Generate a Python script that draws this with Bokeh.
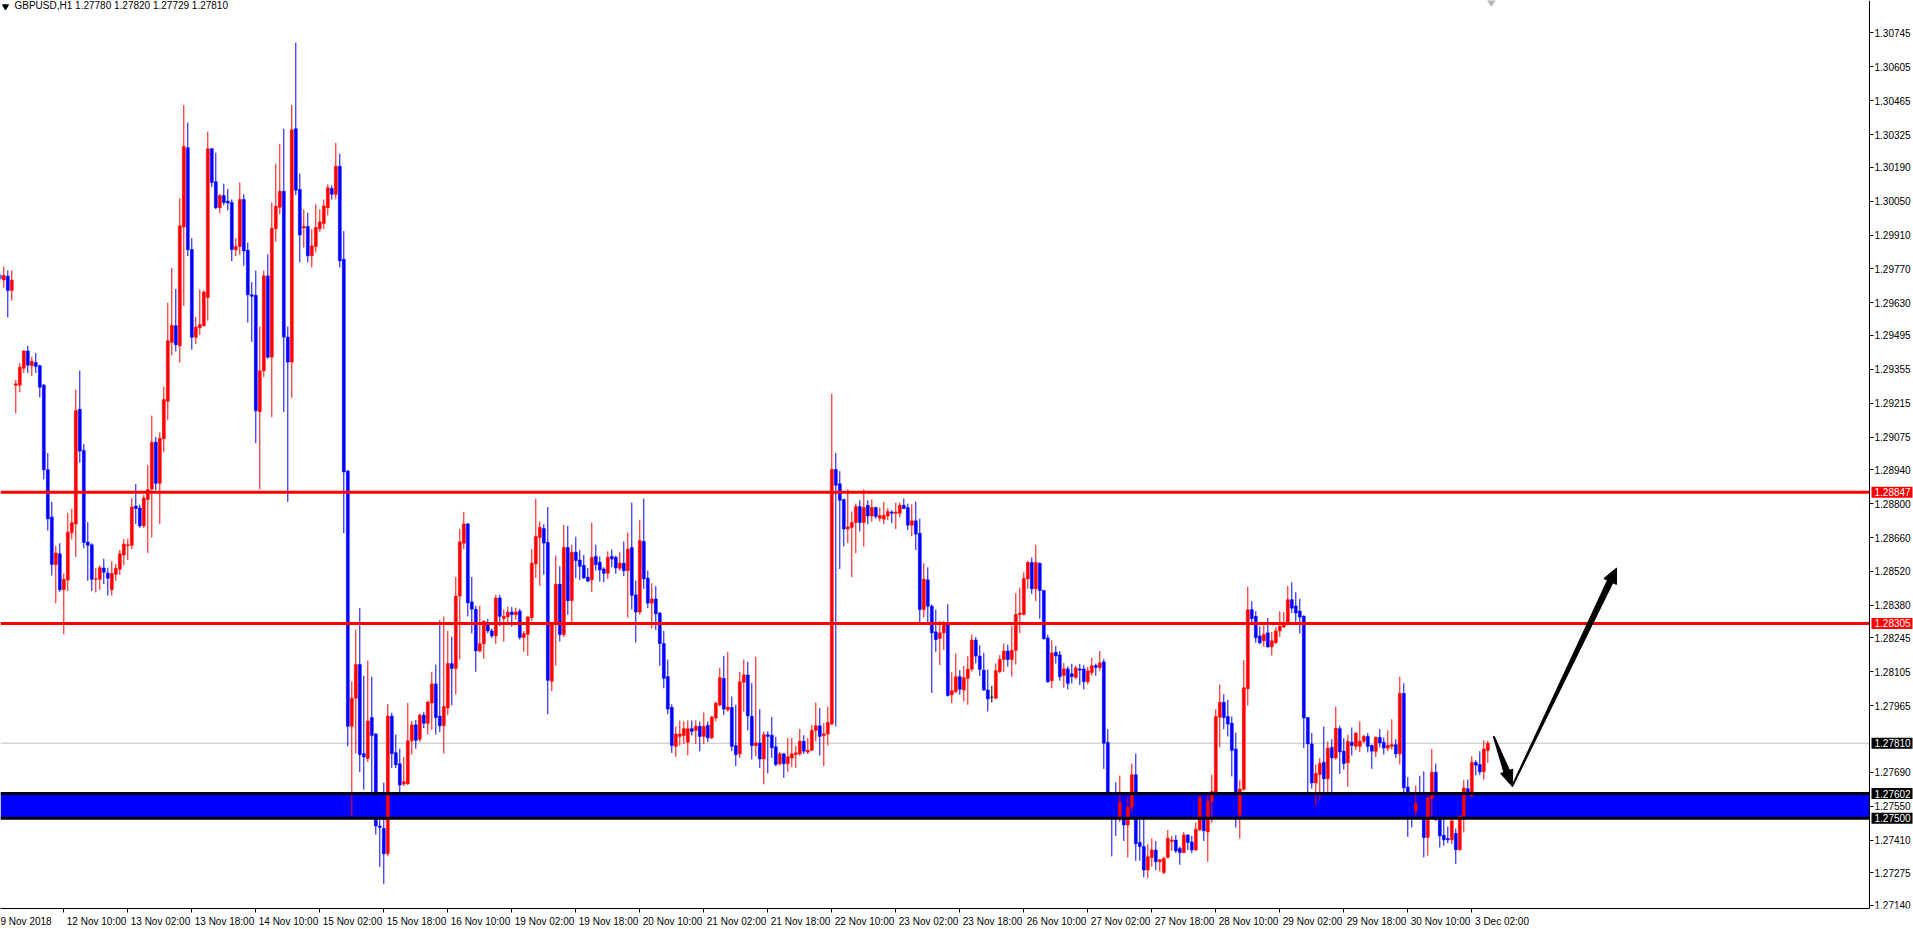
from bokeh.plotting import figure
from bokeh.models import (ColumnDataSource, FixedTicker, PrintfTickFormatter,
                          BoxAnnotation, Label, Range1d)
from bokeh.embed import file_html
from bokeh.resources import INLINE
import math

# ---------------- data (GBPUSD H1) ----------------
opens = [
 1.29745,1.29724,1.29740,1.29681,1.29289,1.29289,1.29359,1.29431,1.29370,1.29383,
 1.29370,1.29290,1.28940,1.28745,1.28548,1.28593,1.28444,1.28484,1.28681,1.28716,
 1.29190,1.29020,1.28641,1.28630,1.28487,1.28487,1.28534,1.28513,1.28444,1.28508,
 1.28529,1.28588,1.28626,1.28628,1.28790,1.28782,1.28708,1.28817,1.28860,1.29054,
 1.28884,1.29068,1.29223,1.29466,1.29535,1.29452,1.29943,1.30271,1.29850,1.29487,
 1.29527,1.29535,1.29652,1.30266,1.30130,1.30023,1.30073,1.30050,1.30044,1.29849,
 1.29863,1.30057,1.29847,1.29663,1.29661,1.29180,1.29349,1.29741,1.29405,1.29936,
 1.30025,1.30091,1.29488,1.29385,1.30349,1.30098,1.29939,1.29945,1.29824,1.29862,
 1.29936,1.29958,1.30023,1.30102,1.30078,1.30194,1.29810,1.28935,1.27880,1.27996,
 1.28135,1.27767,1.27747,1.27916,1.27848,1.27468,1.27458,1.27353,1.27922,1.27771,
 1.27725,1.27641,1.27643,1.27820,1.27886,1.27826,1.27926,1.27892,1.27976,1.28055,
 1.27922,1.27882,1.27956,1.28139,1.28119,1.28418,1.28636,1.28716,1.28394,1.28364,
 1.28191,1.28221,1.28304,1.28274,1.28254,1.28410,1.28325,1.28332,1.28352,1.28341,
 1.28356,1.28247,1.28260,1.28329,1.28551,1.28660,1.28697,1.28640,1.28066,1.28304,
 1.28467,1.28259,1.28619,1.28399,1.28599,1.28567,1.28545,1.28496,1.28485,1.28582,
 1.28558,1.28530,1.28512,1.28582,1.28578,1.28533,1.28554,1.28523,1.28619,1.28423,
 1.28352,1.28644,1.28492,1.28389,1.28406,1.28348,1.28222,1.28085,1.27958,1.27797,
 1.27838,1.27842,1.27814,1.27870,1.27863,1.27880,1.27838,1.27884,1.27832,1.27914,
 1.27968,1.28078,1.27948,1.27958,1.27800,1.27766,1.28062,1.28092,1.27921,1.27800,
 1.27811,1.27745,1.27845,1.27843,1.27795,1.27725,1.27766,1.27725,1.27749,1.27763,
 1.27766,1.27818,1.27773,1.27781,1.27863,1.27882,1.27841,1.27848,1.27889,1.28941,
 1.28882,1.28817,1.28695,1.28702,1.28722,1.28788,1.28722,1.28793,1.28749,1.28784,
 1.28740,1.28736,1.28749,1.28765,1.28760,1.28760,1.28793,1.28784,1.28711,1.28729,
 1.28677,1.28362,1.28485,1.28376,1.28270,1.28243,1.28266,1.28301,1.28010,1.28023,
 1.28085,1.28030,1.28078,1.28116,1.28236,1.28170,1.28112,1.28030,1.28000,1.27996,
 1.28106,1.28156,1.28191,1.28156,1.28194,1.28341,1.28342,1.28489,1.28557,1.28448,
 1.28553,1.28441,1.28245,1.28068,1.28186,1.28175,1.28090,1.28117,1.28097,1.28082,
 1.28117,1.28117,1.28064,1.28102,1.28131,1.28123,1.28146,1.27813,1.27550,1.27530,
 1.27506,1.27567,1.27472,1.27546,1.27680,1.27400,1.27383,1.27286,1.27338,1.27369,
 1.27320,1.27276,1.27338,1.27404,1.27410,1.27375,1.27358,1.27431,1.27402,1.27369,
 1.27452,1.27587,1.27443,1.27569,1.27605,1.27917,1.27979,1.27920,1.27893,1.27786,
 1.27513,1.27619,1.28035,1.28362,1.28334,1.28253,1.28233,1.28266,1.28208,1.28225,
 1.28274,1.28290,1.28304,1.28403,1.28377,1.28356,1.28335,1.27916,1.27807,1.27646,
 1.27681,1.27731,1.27663,1.27793,1.27749,1.27870,1.27777,1.27729,1.27814,1.27797,
 1.27797,1.27818,1.27838,1.27801,1.27777,1.27834,1.27814,1.27790,1.27797,1.27804,
 1.27766,1.28016,1.27629,1.27557,1.27530,1.27561,1.27523,1.27420,1.27581,1.27690,
 1.27496,1.27430,1.27416,1.27411,1.27437,1.27370,1.27507,1.27622,1.27592,1.27731,
 1.27722,1.27692,1.27780]

highs = [
 1.29756,1.29780,1.29764,1.29764,1.29311,1.29380,1.29434,1.29452,1.29407,1.29423,
 1.29374,1.29294,1.29009,1.28807,1.28625,1.28636,1.28511,1.28762,1.28778,1.29271,
 1.29350,1.29046,1.28724,1.28636,1.28535,1.28545,1.28572,1.28535,1.28561,1.28551,
 1.28609,1.28654,1.28655,1.28823,1.28881,1.28796,1.28836,1.28959,1.29164,1.29076,
 1.29095,1.29284,1.29630,1.29774,1.29687,1.30062,1.30447,1.30375,1.29897,1.29572,
 1.29684,1.29681,1.30337,1.30270,1.30250,1.30079,1.30122,1.30100,1.30057,1.29897,
 1.30127,1.30078,1.29879,1.29715,1.29763,1.29532,1.29763,1.29830,1.30045,1.30205,
 1.30287,1.30349,1.29532,1.30447,1.30705,1.30164,1.30016,1.30002,1.29934,1.30036,
 1.30016,1.30057,1.30119,1.30115,1.30290,1.30246,1.29926,1.28939,1.28065,1.28280,
 1.28368,1.28089,1.28151,1.28085,1.27852,1.27608,1.27647,1.27972,1.27936,1.27846,
 1.27787,1.27753,1.27976,1.27902,1.27906,1.27932,1.27940,1.27986,1.28105,1.28135,
 1.28318,1.28334,1.28274,1.28250,1.28497,1.28696,1.28766,1.28720,1.28497,1.28378,
 1.28378,1.28318,1.28324,1.28284,1.28423,1.28423,1.28362,1.28375,1.28373,1.28370,
 1.28366,1.28274,1.28334,1.28612,1.28821,1.28726,1.28715,1.28786,1.28307,1.28585,
 1.28541,1.28712,1.28708,1.28630,1.28663,1.28608,1.28588,1.28534,1.28722,1.28630,
 1.28582,1.28537,1.28603,1.28610,1.28585,1.28599,1.28644,1.28681,1.28804,1.28482,
 1.28732,1.28821,1.28523,1.28471,1.28459,1.28352,1.28274,1.28156,1.27971,1.27880,
 1.27904,1.27900,1.27904,1.27904,1.27904,1.27900,1.27937,1.27900,1.27923,1.27982,
 1.28122,1.28171,1.28188,1.28003,1.27969,1.28105,1.28156,1.28147,1.28058,1.28167,
 1.27951,1.27859,1.27859,1.27918,1.27836,1.27774,1.27770,1.27832,1.27832,1.27800,
 1.27869,1.27843,1.27832,1.27886,1.27978,1.27955,1.27893,1.27962,1.29254,1.29010,
 1.28934,1.28820,1.28859,1.28767,1.28800,1.28814,1.28859,1.28814,1.28818,1.28787,
 1.28784,1.28808,1.28781,1.28773,1.28804,1.28804,1.28821,1.28800,1.28797,1.28808,
 1.28738,1.28554,1.28537,1.28384,1.28362,1.28315,1.28315,1.28384,1.28103,1.28181,
 1.28112,1.28129,1.28170,1.28259,1.28249,1.28215,1.28184,1.28115,1.28047,1.28140,
 1.28174,1.28222,1.28217,1.28294,1.28430,1.28454,1.28516,1.28564,1.28578,1.28630,
 1.28557,1.28444,1.28258,1.28235,1.28212,1.28191,1.28142,1.28128,1.28138,1.28131,
 1.28138,1.28134,1.28126,1.28163,1.28139,1.28191,1.28158,1.27868,1.27605,1.27649,
 1.27676,1.27591,1.27587,1.27726,1.27767,1.27495,1.27495,1.27393,1.27417,1.27406,
 1.27331,1.27341,1.27452,1.27427,1.27430,1.27383,1.27443,1.27434,1.27427,1.27482,
 1.27591,1.27594,1.27594,1.27680,1.27950,1.28052,1.28012,1.27989,1.27920,1.27854,
 1.27657,1.28153,1.28458,1.28397,1.28356,1.28293,1.28297,1.28327,1.28270,1.28290,
 1.28356,1.28352,1.28459,1.28475,1.28434,1.28407,1.28338,1.27918,1.27852,1.27722,
 1.27749,1.27879,1.27818,1.27827,1.27962,1.27883,1.27831,1.27845,1.27875,1.27856,
 1.27900,1.27845,1.27852,1.27804,1.27838,1.27868,1.27834,1.27863,1.27909,1.27827,
 1.28085,1.28057,1.27670,1.27564,1.27635,1.27674,1.27694,1.27590,1.27786,1.27726,
 1.27499,1.27496,1.27466,1.27496,1.27457,1.27512,1.27657,1.27660,1.27756,1.27740,
 1.27777,1.27822,1.27820]

lows = [
 1.29716,1.29692,1.29569,1.29639,1.29172,1.29260,1.29340,1.29340,1.29327,1.29340,
 1.29239,1.28900,1.28689,1.28503,1.28388,1.28436,1.28260,1.28439,1.28652,1.28580,
 1.28969,1.28615,1.28481,1.28439,1.28433,1.28444,1.28468,1.28420,1.28420,1.28481,
 1.28505,1.28545,1.28567,1.28612,1.28716,1.28700,1.28700,1.28596,1.28660,1.28855,
 1.28716,1.29012,1.29145,1.29412,1.29428,1.29383,1.29617,1.29823,1.29436,1.29460,
 1.29497,1.29532,1.29556,1.30108,1.30017,1.29999,1.30033,1.30012,1.29802,1.29823,
 1.29828,1.29783,1.29548,1.29468,1.29050,1.28859,1.29323,1.29399,1.29158,1.29882,
 1.29996,1.29178,1.28807,1.29237,1.30075,1.29797,1.29858,1.29797,1.29776,1.29838,
 1.29923,1.29934,1.29991,1.30057,1.30057,1.29776,1.28678,1.27797,1.27508,1.27767,
 1.27691,1.27618,1.27733,1.27607,1.27432,1.27299,1.27229,1.27343,1.27707,1.27707,
 1.27607,1.27633,1.27637,1.27763,1.27787,1.27816,1.27872,1.27846,1.27866,1.27846,
 1.27856,1.27767,1.27926,1.27966,1.28012,1.28155,1.28612,1.28334,1.28264,1.28105,
 1.28185,1.28159,1.28264,1.28244,1.28221,1.28294,1.28229,1.28297,1.28291,1.28321,
 1.28238,1.28188,1.28171,1.28315,1.28493,1.28460,1.28506,1.27930,1.28025,1.28130,
 1.28230,1.28249,1.28341,1.28311,1.28492,1.28485,1.28489,1.28475,1.28434,1.28523,
 1.28478,1.28475,1.28489,1.28537,1.28510,1.28523,1.28500,1.28329,1.28362,1.28226,
 1.28341,1.28448,1.28369,1.28284,1.28277,1.28130,1.28037,1.27930,1.27770,1.27753,
 1.27800,1.27807,1.27760,1.27842,1.27807,1.27777,1.27807,1.27815,1.27827,1.27900,
 1.27962,1.27927,1.27941,1.27777,1.27715,1.27749,1.27941,1.27863,1.27743,1.27756,
 1.27708,1.27640,1.27685,1.27749,1.27715,1.27718,1.27667,1.27692,1.27712,1.27708,
 1.27759,1.27766,1.27766,1.27777,1.27818,1.27759,1.27715,1.27800,1.27885,1.27880,
 1.28530,1.28623,1.28637,1.28496,1.28595,1.28685,1.28623,1.28715,1.28726,1.28738,
 1.28726,1.28715,1.28732,1.28719,1.28695,1.28743,1.28777,1.28691,1.28665,1.28608,
 1.28311,1.28329,1.28311,1.28017,1.28188,1.28133,1.28195,1.28003,1.27975,1.28017,
 1.28010,1.27982,1.27969,1.28106,1.28140,1.28088,1.28026,1.27941,1.27978,1.27992,
 1.28099,1.28105,1.28126,1.28085,1.28135,1.28265,1.28338,1.28448,1.28427,1.28397,
 1.28324,1.28238,1.28060,1.28037,1.28139,1.28068,1.28039,1.28032,1.28057,1.28074,
 1.28050,1.28032,1.28053,1.28089,1.28089,1.28109,1.27704,1.27523,1.27342,1.27427,
 1.27485,1.27406,1.27338,1.27523,1.27324,1.27324,1.27256,1.27252,1.27300,1.27286,
 1.27280,1.27269,1.27334,1.27365,1.27356,1.27308,1.27356,1.27369,1.27356,1.27365,
 1.27448,1.27406,1.27320,1.27482,1.27600,1.27793,1.27868,1.27838,1.27673,1.27461,
 1.27416,1.27615,1.27965,1.28304,1.28225,1.28219,1.28208,1.28205,1.28173,1.28220,
 1.28249,1.28287,1.28297,1.28348,1.28311,1.28263,1.27790,1.27605,1.27622,1.27553,
 1.27578,1.27598,1.27598,1.27598,1.27742,1.27683,1.27701,1.27630,1.27759,1.27781,
 1.27774,1.27811,1.27772,1.27704,1.27753,1.27793,1.27763,1.27777,1.27783,1.27749,
 1.27722,1.27603,1.27423,1.27462,1.27507,1.27496,1.27338,1.27345,1.27509,1.27489,
 1.27379,1.27386,1.27397,1.27393,1.27311,1.27366,1.27441,1.27592,1.27589,1.27677,
 1.27678,1.27660,1.27729]

closes = [
 1.29729,1.29743,1.29681,1.29724,1.29295,1.29364,1.29431,1.29372,1.29388,1.29367,
 1.29281,1.28940,1.28737,1.28548,1.28596,1.28444,1.28487,1.28682,1.28721,1.29185,
 1.29017,1.28639,1.28628,1.28487,1.28490,1.28535,1.28516,1.28492,1.28511,1.28532,
 1.28593,1.28633,1.28630,1.28786,1.28780,1.28708,1.28823,1.28858,1.29054,1.28884,
 1.29070,1.29230,1.29473,1.29537,1.29457,1.29948,1.30276,1.29849,1.29487,1.29530,
 1.29540,1.29674,1.30266,1.30127,1.30023,1.30073,1.30044,1.30042,1.29849,1.29863,
 1.30057,1.29844,1.29663,1.29657,1.29184,1.29349,1.29741,1.29405,1.29938,1.30029,
 1.30091,1.29488,1.29385,1.30345,1.30095,1.29910,1.29945,1.29824,1.29865,1.29941,
 1.29964,1.30030,1.30105,1.30078,1.30194,1.29803,1.28931,1.27880,1.27996,1.28135,
 1.27763,1.27753,1.27902,1.27842,1.27468,1.27462,1.27353,1.27922,1.27767,1.27721,
 1.27637,1.27651,1.27820,1.27886,1.27822,1.27926,1.27892,1.27980,1.28055,1.27916,
 1.27882,1.27962,1.28139,1.28119,1.28418,1.28642,1.28716,1.28390,1.28364,1.28191,
 1.28221,1.28314,1.28274,1.28254,1.28410,1.28334,1.28334,1.28352,1.28341,1.28352,
 1.28247,1.28263,1.28332,1.28554,1.28664,1.28702,1.28637,1.28070,1.28304,1.28467,
 1.28259,1.28619,1.28399,1.28599,1.28565,1.28541,1.28493,1.28480,1.28578,1.28548,
 1.28526,1.28512,1.28578,1.28571,1.28534,1.28554,1.28523,1.28612,1.28421,1.28352,
 1.28647,1.28489,1.28389,1.28406,1.28345,1.28222,1.28078,1.27951,1.27800,1.27848,
 1.27848,1.27870,1.27870,1.27859,1.27880,1.27838,1.27880,1.27832,1.27918,1.27975,
 1.28081,1.27951,1.27959,1.27797,1.27763,1.28064,1.28092,1.27923,1.27800,1.27811,
 1.27745,1.27845,1.27838,1.27791,1.27722,1.27766,1.27725,1.27754,1.27766,1.27770,
 1.27818,1.27777,1.27781,1.27863,1.27882,1.27838,1.27849,1.27896,1.28941,1.28876,
 1.28814,1.28695,1.28704,1.28722,1.28788,1.28722,1.28784,1.28749,1.28784,1.28747,
 1.28751,1.28751,1.28767,1.28760,1.28765,1.28793,1.28780,1.28711,1.28729,1.28674,
 1.28362,1.28488,1.28376,1.28266,1.28238,1.28266,1.28304,1.28007,1.28027,1.28085,
 1.28033,1.28081,1.28116,1.28236,1.28170,1.28115,1.28030,1.27993,1.28000,1.28110,
 1.28156,1.28191,1.28156,1.28194,1.28342,1.28348,1.28491,1.28557,1.28448,1.28557,
 1.28441,1.28242,1.28064,1.28183,1.28171,1.28085,1.28117,1.28057,1.28085,1.28121,
 1.28112,1.28064,1.28109,1.28130,1.28123,1.28142,1.27810,1.27550,1.27530,1.27506,
 1.27567,1.27472,1.27546,1.27680,1.27395,1.27383,1.27286,1.27341,1.27369,1.27320,
 1.27328,1.27334,1.27417,1.27410,1.27365,1.27358,1.27431,1.27400,1.27369,1.27454,
 1.27587,1.27448,1.27571,1.27610,1.27920,1.27979,1.27916,1.27889,1.27780,1.27513,
 1.27621,1.28039,1.28361,1.28325,1.28246,1.28225,1.28260,1.28208,1.28233,1.28274,
 1.28294,1.28304,1.28403,1.28368,1.28348,1.28331,1.27914,1.27807,1.27646,1.27685,
 1.27726,1.27663,1.27790,1.27749,1.27872,1.27774,1.27726,1.27818,1.27801,1.27852,
 1.27818,1.27838,1.27797,1.27777,1.27834,1.27811,1.27790,1.27801,1.27804,1.27766,
 1.28016,1.27626,1.27557,1.27523,1.27561,1.27523,1.27420,1.27585,1.27690,1.27496,
 1.27427,1.27411,1.27411,1.27489,1.27370,1.27509,1.27625,1.27608,1.27731,1.27719,
 1.27692,1.27786,1.27810]

# time axis: bar index of each labelled hour and its text
time_tick_bars = [16, 32, 48, 64, 80, 96, 112, 128, 144, 160, 176, 192,
                  208, 224, 240, 256, 272, 288, 304, 320, 336, 352, 368]
time_tick_labels = ["12 Nov 10:00", "13 Nov 02:00", "13 Nov 18:00", "14 Nov 10:00",
                    "15 Nov 02:00", "15 Nov 18:00", "16 Nov 10:00", "19 Nov 02:00",
                    "19 Nov 18:00", "20 Nov 10:00", "21 Nov 02:00", "21 Nov 18:00",
                    "22 Nov 10:00", "23 Nov 02:00", "23 Nov 18:00", "26 Nov 10:00",
                    "27 Nov 02:00", "27 Nov 18:00", "28 Nov 10:00", "29 Nov 02:00",
                    "29 Nov 18:00", "30 Nov 10:00", "3 Dec 02:00"]
first_date_label = "9 Nov 2018"

price_ticks = [1.30745, 1.30605, 1.30465, 1.30325, 1.30190, 1.30050, 1.29910, 1.29770,
               1.29630, 1.29495, 1.29355, 1.29215, 1.29075, 1.28940, 1.28800, 1.28660,
               1.28520, 1.28380, 1.28245, 1.28105, 1.27965, 1.27690, 1.27550, 1.27410,
               1.27275, 1.27140]

resistance_levels = [1.28847, 1.28305]
zone_bottom, zone_top = 1.27500, 1.27602
last_price = 1.27810
title_text = "GBPUSD,H1  1.27780 1.27820 1.27729 1.27810"

# hand-drawn arrows (bar index, price): start -> tip
arrow_down = (373.5, 1.27838, 378.1, 1.27632)
arrow_up = (378.1, 1.27632, 404.2, 1.28534)

# ---------------- geometry ----------------
FONT = "'Liberation Sans', Arial, sans-serif"
W, H = 1913, 929
BB = 16
FH = H - BB
X0 = 0.175                 # bar index at the left edge
PX_X = 4.0                 # pixels per bar
X1 = X0 + W / PX_X
AXIS_X = X0 + 1869 / PX_X  # where the price scale sits
TAG_X = X0 + 1891.5 / PX_X # centre of the price tags on the scale
Y0, Y1 = 1.27127, 1.30879
PX_Y = FH / (Y1 - Y0)

p = figure(width=W, height=H, output_backend="svg", toolbar_location=None,
           x_range=Range1d(X0, X1), y_range=Range1d(Y0, Y1),
           y_axis_location="right", min_border_left=0, min_border_top=0,
           min_border_right=0, min_border_bottom=BB)
p.background_fill_color = "white"
p.border_fill_color = "white"
p.outline_line_color = None
p.grid.visible = False

n = len(closes)
idx = list(range(n))
colors = ["#ff0000" if c > o else ("#0000ff" if c < o else "#000000")
          for o, c in zip(opens, closes)]
src = ColumnDataSource(dict(x=idx, o=opens, h=highs, l=lows, c=closes,
                            top=[max(o, c) for o, c in zip(opens, closes)],
                            bot=[min(o, c) for o, c in zip(opens, closes)],
                            color=colors))

# background zone and current price line (stop at the price scale)
p.add_layout(BoxAnnotation(left=X0, right=AXIS_X, bottom=zone_bottom, top=zone_top,
                           fill_color="#0000ff", fill_alpha=1.0, line_color=None,
                           level="underlay"))
p.segment(x0=[X0], x1=[AXIS_X], y0=[last_price], y1=[last_price],
          line_color="#c0c0c0", line_width=1)

p.segment(x0="x", x1="x", y0="l", y1="h", color="color", line_width=1, source=src)
p.vbar(x="x", width=0.75, top="top", bottom="bot", fill_color="color",
       line_color="color", line_width=0.5, source=src)

p.segment(x0=[X0] * 2, x1=[AXIS_X] * 2, y0=resistance_levels, y1=resistance_levels,
          line_color="#ff0000", line_width=3)
p.segment(x0=[X0] * 2, x1=[AXIS_X] * 2, y0=[zone_top, zone_bottom],
          y1=[zone_top, zone_bottom], line_color="black", line_width=3)


def tapered_arrow(a, w0, w1, head_len, head_w):
    """Polygon (data units) of a wedge-shaped arrow like the terminal's arrow tool."""
    x0, y0, x1, y1 = a
    sx0, sy0, sx1, sy1 = x0 * PX_X, y0 * PX_Y, x1 * PX_X, y1 * PX_Y
    L = math.hypot(sx1 - sx0, sy1 - sy0)
    ux, uy = (sx1 - sx0) / L, (sy1 - sy0) / L
    nx, ny = -uy, ux
    bx, by = sx1 - ux * head_len, sy1 - uy * head_len
    pts = [(sx0 + nx * w0 / 2, sy0 + ny * w0 / 2),
           (bx + nx * w1 / 2, by + ny * w1 / 2),
           (bx + nx * head_w / 2, by + ny * head_w / 2),
           (sx1, sy1),
           (bx - nx * head_w / 2, by - ny * head_w / 2),
           (bx - nx * w1 / 2, by - ny * w1 / 2),
           (sx0 - nx * w0 / 2, sy0 - ny * w0 / 2)]
    return [q[0] / PX_X for q in pts], [q[1] / PX_Y for q in pts]


for a, hl, hw in ((arrow_down, 16, 13), (arrow_up, 15, 14)):
    xs, ys = tapered_arrow(a, 1.0, 6.0, hl, hw)
    p.patch(xs, ys, fill_color="black", line_color="black", line_width=1)

# chart-shift marker at the top edge
p.scatter(x=[372.9], y=[Y1], marker="diamond", size=11, color="#b4b4b4")

# ---------------- axes ----------------
yax = p.yaxis[0]
yax.fixed_location = AXIS_X
yax.ticker = FixedTicker(ticks=price_ticks, minor_ticks=[])
yax.formatter = PrintfTickFormatter(format="%.5f")
yax.axis_line_color = "black"
yax.major_tick_out = 4
yax.major_tick_in = 0
yax.minor_tick_line_color = None
yax.major_label_standoff = 1
yax.major_label_text_font = FONT
yax.major_label_text_font_size = "10px"
yax.major_label_text_color = "black"

# labels sit to the right of their tick mark, as in the terminal
label_centers = [round(b + (3 + 4.95 * len(t) / 2) / PX_X, 2)
                 for b, t in zip(time_tick_bars, time_tick_labels)]
first_center = 6.3
xax = p.xaxis[0]
xax.bounds = (X0, AXIS_X)
xax.ticker = FixedTicker(ticks=[first_center] + label_centers, minor_ticks=time_tick_bars)
overrides = {first_center: first_date_label}
overrides.update({c: t for c, t in zip(label_centers, time_tick_labels)})
xax.major_label_overrides = overrides
xax.axis_line_color = "black"
xax.major_tick_out = 0
xax.major_tick_in = 0
xax.major_tick_line_color = None
xax.minor_tick_out = 4
xax.minor_tick_in = 0
xax.minor_tick_line_color = "black"
xax.major_label_standoff = 3
xax.major_label_text_font = FONT
xax.major_label_text_font_size = "10px"
xax.major_label_text_color = "black"

# price tags on the scale: coloured boxes with white values
tag_prices = [resistance_levels[0], resistance_levels[1], last_price, zone_top, zone_bottom]
tag_colors = ["#ff0000", "#ff0000", "#000000", "#000000", "#000000"]
p.rect(x=[TAG_X] * len(tag_prices), y=tag_prices, width=41, height=11,
       width_units="screen", height_units="screen", fill_color=tag_colors,
       line_color=None)
for price in tag_prices:
    p.add_layout(Label(x=1874, y=price, x_units="screen", y_units="data",
                       text="%.5f" % price, text_font=FONT, text_font_size="10px",
                       text_color="white", text_align="left", text_baseline="middle"))

# title
p.add_layout(Label(x=14, y=FH - 10, x_units="screen", y_units="screen", text=title_text,
                   text_font=FONT, text_font_size="10px", text_color="black",
                   text_align="left", text_baseline="middle"))
p.scatter(x=[1.43], y=[1.30854], marker="inverted_triangle", size=6, color="black")

open("out.html", "w").write(file_html(p, INLINE))
